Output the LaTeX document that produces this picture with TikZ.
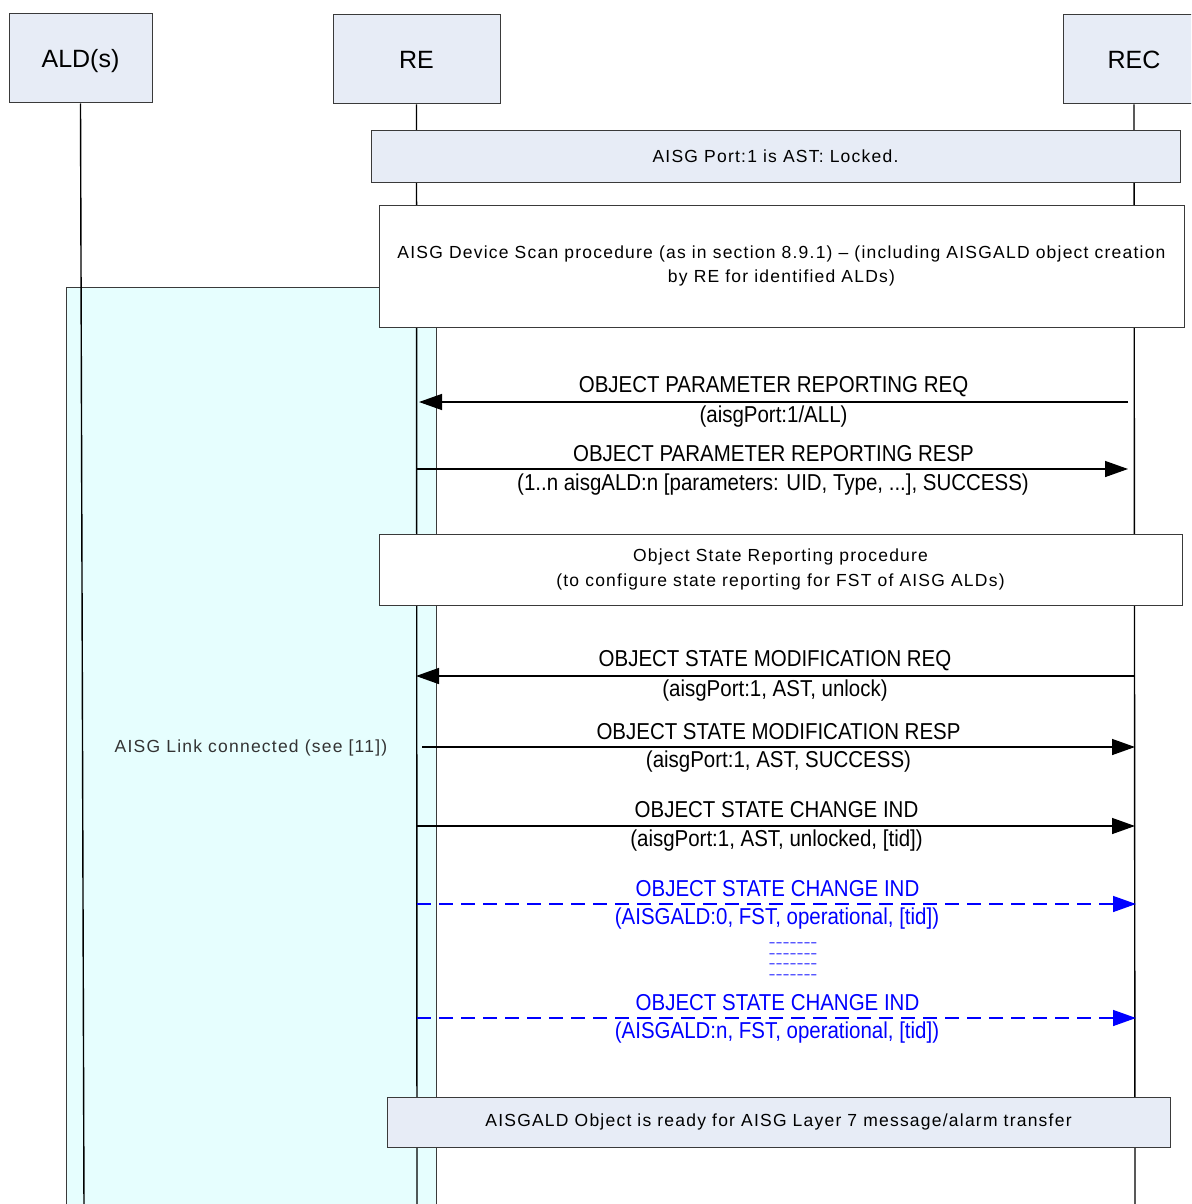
\documentclass[tikz,border=0pt]{standalone}
\usepackage{fontspec}
\setmainfont{Liberation Sans}
\newfontfamily\narrowfont[FakeStretch=0.89]{Liberation Sans}
\newfontfamily\spacedfont[LetterSpace=7]{Liberation Sans}
\newfontfamily\widefont[FakeStretch=1.75]{Liberation Sans}
\usetikzlibrary{arrows.meta}
\definecolor{hdr}{HTML}{E7ECF6}
\definecolor{cyanbg}{HTML}{E6FEFE}
\definecolor{edge}{HTML}{3A3A3A}
\definecolor{msgblue}{HTML}{0000FF}
\definecolor{linktext}{HTML}{333333}
\begin{document}
\begin{tikzpicture}[x=1pt,y=-1pt,
  actor/.style={draw=edge, fill=hdr, line width=1pt, inner sep=0pt, text height=18pt, text depth=0pt, font=\fontsize{25}{28}\selectfont},
  hdrbox/.style={draw=edge, fill=hdr, line width=1pt, inner sep=0pt, font=\spacedfont\fontsize{17.5}{24}\selectfont},
  procbox/.style={draw=edge, fill=white, line width=1pt, inner sep=0pt, align=center, font=\spacedfont\fontsize{17.5}{24.5}\selectfont},
  linkbox/.style={draw=edge, fill=cyanbg, line width=1pt, inner sep=0pt},
  life/.style={draw=black, line width=1.4pt},
  msg/.style={draw=black, line width=1.4pt, -{Triangle[length=23pt,width=16pt]}},
  bmsg/.style={draw=msgblue, line width=1.4pt, dash pattern=on 14pt off 8pt, -{Triangle[length=23pt,width=16pt]}},
  lbl/.style={inner sep=0pt, font=\narrowfont\fontsize{23}{26}\selectfont},
  blbl/.style={lbl, text=msgblue},
  dashtxt/.style={inner sep=0pt, anchor=base, text=msgblue, font=\widefont\fontsize{12}{12}\selectfont}
]
\useasboundingbox (0,0) rectangle (1191,1204);
\clip (0,0) rectangle (1191,1204);

% link box (background)
\node[linkbox, minimum width=370pt, minimum height=940pt, anchor=north west] (link) at (66,287) {};
\node[inner sep=0pt, text=linktext, font=\spacedfont\fontsize{17.5}{20}\selectfont] (linklbl) at (251,748) {AISG Link connected (see [11])};

% actors
\node[actor, minimum width=143pt, minimum height=89pt] (ald) at (80.5,58.5) {ALD(s)};
\node[actor, minimum width=167pt, minimum height=89pt] (re) at (416.5,59.5) {RE};
\node[actor, minimum width=142pt, minimum height=89pt] (rec) at (1134,59.5) {REC};

% lifeline ends
\coordinate (aldend) at (84,1210);
\coordinate (reend) at (417,1210);
\coordinate (recend) at (1135,1210);
\draw[life] (ald.south) -- (aldend);
\draw[life] (re.south) -- (reend);
\draw[life] (rec.south) -- (recend);

% procedure boxes
\node[hdrbox, minimum width=809pt, minimum height=51pt] (port) at (775.5,156.5) {AISG Port:1 is AST: Locked.};
\node[procbox, minimum width=805pt, minimum height=122pt] (scan) at (781.5,266) {AISG Device Scan procedure (as in section 8.9.1) – (including AISGALD object creation\\by RE for identified ALDs)};
\node[procbox, minimum width=803pt, minimum height=71pt] (osr) at (780.5,569.5) {Object State Reporting procedure\\(to configure state reporting for FST of AISG ALDs)};
\node[hdrbox, minimum width=783pt, minimum height=50pt] (ready) at (778.5,1122) {AISGALD Object is ready for AISG Layer 7 message/alarm transfer};

% message end points
\coordinate (m1s) at (1128,402);  \coordinate (m1e) at (419,402);
\coordinate (m2s) at (417,469);   \coordinate (m2e) at (1128,469);
\coordinate (m3s) at (1135,676);  \coordinate (m3e) at (416,676);
\coordinate (m4s) at (422,747);   \coordinate (m4e) at (1135,747);
\coordinate (m5s) at (417,826);   \coordinate (m5e) at (1135,826);
\coordinate (m6s) at (417,904);   \coordinate (m6e) at (1136,904);
\coordinate (m7s) at (417,1018);  \coordinate (m7e) at (1136,1018);

\draw[msg] (m1s) -- (m1e);
\draw[msg] (m2s) -- (m2e);
\draw[msg] (m3s) -- (m3e);
\draw[msg] (m4s) -- (m4e);
\draw[msg] (m5s) -- (m5e);
\draw[bmsg] (m6s) -- (m6e);
\draw[bmsg] (m7s) -- (m7e);

% labels
\node[lbl] (l1a) at (773.5,387) {OBJECT PARAMETER REPORTING REQ};
\node[lbl] (l1b) at (773.5,416.5) {(aisgPort:1/ALL)};
\node[lbl] (l2a) at (773.5,454) {OBJECT PARAMETER REPORTING RESP};
\node[lbl] (l2b) at (773,484.5) {(1..n aisgALD:n [parameters: UID, Type, ...], SUCCESS)};
\node[lbl] (l3a) at (775,661) {OBJECT STATE MODIFICATION REQ};
\node[lbl] (l3b) at (775,690.5) {(aisgPort:1, AST, unlock)};
\node[lbl] (l4a) at (778.5,732) {OBJECT STATE MODIFICATION RESP};
\node[lbl] (l4b) at (778.5,761.5) {(aisgPort:1, AST, SUCCESS)};
\node[lbl] (l5a) at (776.5,810) {OBJECT STATE CHANGE IND};
\node[lbl] (l5b) at (776.5,840.5) {(aisgPort:1, AST, unlocked, [tid])};
\node[blbl] (l6a) at (777.5,889) {OBJECT STATE CHANGE IND};
\node[blbl] (l6b) at (777,918.5) {(AISGALD:0, FST, operational, [tid])};
\node[blbl] (l7a) at (777.5,1003) {OBJECT STATE CHANGE IND};
\node[blbl] (l7b) at (777,1032.5) {(AISGALD:n, FST, operational, [tid])};

% ellipsis dashes
\def\hy{-\kern0pt}
\node[dashtxt] (d1) at (793,946.5) {\hy\hy\hy\hy\hy\hy\hy};
\node[dashtxt] (d2) at (793,957) {\hy\hy\hy\hy\hy\hy\hy};
\node[dashtxt] (d3) at (793,967.5) {\hy\hy\hy\hy\hy\hy\hy};
\node[dashtxt] (d4) at (793,978) {\hy\hy\hy\hy\hy\hy\hy};
\end{tikzpicture}
\end{document}
